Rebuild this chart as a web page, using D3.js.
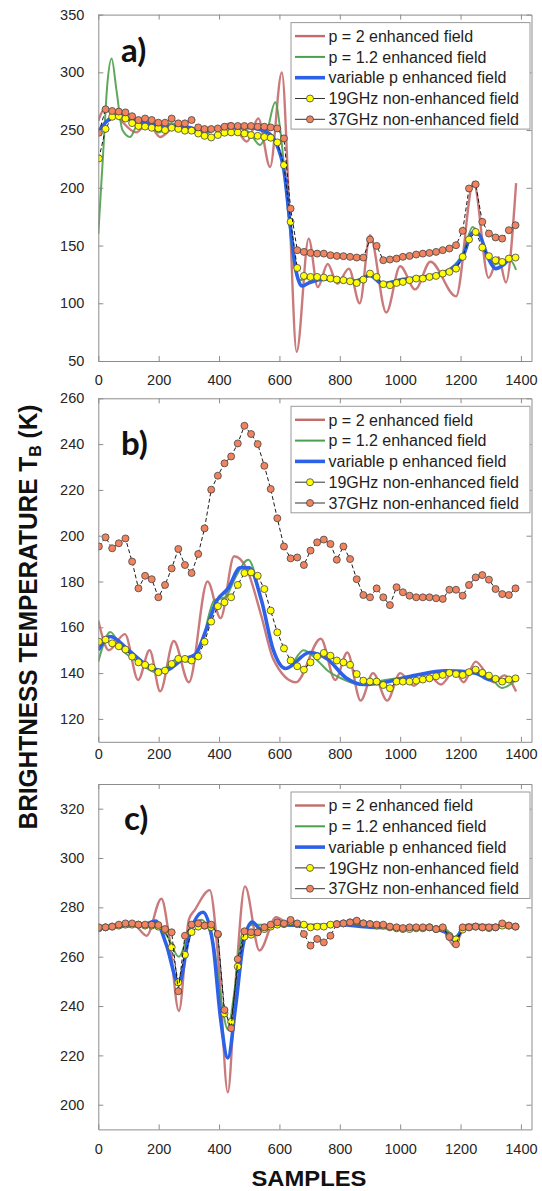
<!DOCTYPE html>
<html lang="en">
<head>
<meta charset="UTF-8">
<title>Brightness temperature profiles</title>
<script src="https://cdn.jsdelivr.net/npm/d3@7"></script>
<style>
  body { margin: 0; background: #fff; }
  svg { display: block; font-family: "Liberation Sans", Arial, sans-serif; }
  .legend-text { font-size: 16px; fill: #1e1e1e; }
</style>
</head>
<body>
<svg id="chart" width="542" height="1191"></svg>
<script>
// footprint sample positions, shared by the 19GHz / 37GHz series of every panel
const sampleX = [2, 24, 46, 68, 90, 112, 133, 155, 177, 199, 221, 243, 265, 287, 309, 331, 352, 374, 396, 418,
  440, 462, 484, 506, 528, 550, 571, 593, 615, 637, 659, 681, 703, 725, 747, 769, 790, 812, 834, 856,
  878, 900, 922, 944, 966, 988, 1009, 1031, 1053, 1075, 1097, 1119, 1141, 1163, 1185, 1207, 1228, 1250, 1272, 1294,
  1316, 1338, 1360, 1382];

const xTicks = [0, 200, 400, 600, 800, 1000, 1200, 1400];
const aYTicks = [50, 100, 150, 200, 250, 300, 350];
const bYTicks = [120, 140, 160, 180, 200, 220, 240, 260];
const cYTicks = [200, 220, 240, 260, 280, 300, 320];

const legendLabels = ['p = 2 enhanced field', 'p = 1.2 enhanced field', 'variable p enhanced field',
  '19GHz non-enhanced field', '37GHz non-enhanced field'];

// ---- panel a ----
const aTb19 = [225.4, 251, 261.5, 262, 260, 256, 253.5, 253, 252, 251.5,
  250, 252, 251, 249.5, 249.5, 247, 245, 243.6, 245.7, 247.7,
  248, 248, 247, 245.7, 245, 244, 243.4, 239.3, 219.7, 170.5,
  130.6, 123.7, 122.8, 122.8, 122.3, 121.4, 120.5, 120, 119, 117.6,
  120.5, 125.7, 122.8, 116.5, 115.6, 117.6, 118.5, 120, 121.4, 121.4,
  122.8, 123.7, 125.7, 127.2, 130, 140.2, 155.2, 161.8, 148.3, 140.8,
  137.3, 135.8, 138.7, 139.6];
const aTb37 = [247.7, 268, 266.5, 266, 265.3, 262, 258.7, 260, 258.7, 256.4,
  256.4, 260, 255.8, 255.8, 258.7, 252.3, 250.9, 250.9, 251.4, 252.9,
  253.5, 253.5, 253.5, 253.5, 252.9, 252.9, 252.3, 251.4, 242.8, 182,
  146, 144.5, 143.6, 143, 143, 141.6, 141, 140.8, 140.2, 139.6,
  139.6, 155.2, 149.7, 137.3, 137.9, 138.7, 140.2, 141, 142.2, 143,
  143.6, 144.5, 146, 147.4, 150.3, 162.7, 199.4, 203, 170.5, 160.4,
  157, 156, 163.3, 167.6];
const aP2X = [0, 20, 60, 125, 165, 205, 250, 300, 350, 400, 440, 492, 530, 569, 608, 633, 657, 697, 727, 760,
  792, 830, 866, 900, 954, 1000, 1050, 1100, 1185, 1243, 1293, 1326, 1350, 1384];
const aP2Y = [258, 268, 262, 248, 256, 244, 252, 253, 248, 252, 256, 240, 260, 218, 300, 180, 58, 156, 114, 134,
  117, 130, 100, 159, 92, 132, 112, 136, 106, 205, 122, 140, 118, 204];
const aP12X = [0, 15, 30, 44, 60, 80, 105, 130, 160, 200, 240, 300, 350, 400, 460, 500, 536, 560, 586, 605,
  625, 645, 665, 700, 850, 900, 940, 1000, 1080, 1140, 1165, 1190, 1210, 1240, 1260, 1290, 1316, 1345, 1365, 1384];
const aP12Y = [160, 225, 290, 312, 285, 250, 244, 255, 258, 248, 256, 250, 246, 252, 252, 248, 237, 250, 274, 245,
  190, 140, 120, 122, 120, 125, 117, 121, 123, 127, 130, 136, 145, 166, 160, 142, 134, 137, 137, 129];
const aVarX = [0, 30, 60, 120, 200, 300, 350, 400, 500, 560, 590, 615, 635, 655, 675, 700, 760, 850, 900, 940,
  1000, 1080, 1140, 1165, 1190, 1210, 1240, 1260, 1290, 1316, 1345, 1370, 1384];
const aVarY = [249, 258, 263, 258, 254, 252, 249, 252, 252, 248, 238, 215, 170, 128, 115, 118, 121, 119, 124, 117,
  120, 123, 126, 129, 134, 142, 161, 160, 140, 130, 134, 140, 139];

// ---- panel b ----
const bTb19 = [153.7, 154.6, 153, 151.7, 150.3, 147.2, 144.7, 143.6, 142.5, 140.4,
  141.1, 144, 146.2, 146.2, 145.5, 147.3, 153.7, 162.5, 169.2, 170.9,
  173.1, 178.5, 183.7, 184, 182.5, 176.7, 167.3, 157.8, 150.8, 145.5,
  143, 141.5, 144.7, 147.3, 148.8, 147.6, 145.5, 144.7, 143.6, 139.6,
  136.7, 136.3, 136.3, 134.8, 133.4, 136.3, 136.3, 136.3, 136.7, 137.2,
  137.7, 138.6, 139.2, 140.1, 139.6, 139.2, 140.4, 141.5, 140.1, 138.9,
  137.5, 136.3, 137.2, 137.7];
const bTb37 = [195.3, 199.3, 194.5, 196.7, 198.8, 188.7, 177, 182.5, 181, 173.1,
  178.5, 185.7, 194.2, 187.2, 183.7, 192, 203.2, 220.1, 226.2, 231.6,
  234.6, 240.3, 248, 244.4, 240, 230.5, 220.4, 207.6, 195.3, 190.1,
  190.5, 187.2, 193.5, 197.1, 198.3, 196.4, 189.5, 195.3, 189.8, 181,
  174.1, 173.1, 177, 173.1, 169.7, 177.5, 175.3, 173.8, 173.1, 173.1,
  173.1, 172.7, 172.4, 176.4, 176.4, 173.8, 178.5, 181.8, 182.8, 180.8,
  176.7, 174.5, 174.1, 177];
const bP2X = [0, 35, 88, 132, 170, 205, 250, 300, 362, 405, 450, 490, 540, 580, 655, 737, 785, 825, 869, 910,
  957, 1000, 1045, 1090, 1135, 1180, 1210, 1250, 1310, 1345, 1384];
const bP2Y = [163, 150, 157, 137, 150, 132, 154, 136, 180, 164, 191, 186, 165, 146, 136, 155, 137, 149, 128, 140,
  128, 140, 134.5, 139.6, 135, 141, 136, 145, 136, 139, 132];
const bP12X = [0, 40, 80, 130, 200, 260, 300, 340, 385, 420, 455, 497, 540, 580, 625, 680, 730, 760, 800, 870,
  950, 1050, 1150, 1250, 1300, 1337, 1384];
const bP12Y = [145, 158, 150, 145, 140, 146, 145, 152, 172, 173, 182, 189.5, 172, 150, 142, 150, 145, 141, 138, 135,
  137, 139, 141, 141, 138, 133.5, 137];
const bVarX = [0, 40, 100, 180, 220, 280, 320, 360, 390, 430, 470, 500, 540, 580, 620, 700, 760, 820, 880, 950,
  1050, 1150, 1250, 1300, 1384];
const bVarY = [150, 156, 150, 142, 141, 146, 148, 160, 171, 177, 186, 186, 172, 150, 142, 149, 146, 138, 135, 136,
  139, 141, 140, 137, 137];

// ---- panel c ----
const cTb19 = [271.5, 271.9, 272.2, 272.6, 273, 273, 273, 272.6, 272.6, 272.2,
  270.8, 263.8, 249.6, 260.8, 270, 272.2, 272.6, 272, 269, 237,
  233.6, 256, 268.1, 268.9, 269.9, 271.2, 272.2, 273, 273.2, 274.3,
  273.2, 273, 271.9, 272.2, 272.2, 273, 273.2, 273.5, 273.9, 274.3,
  273.5, 273.2, 272.6, 272.6, 271.9, 271.5, 271.2, 271.2, 271.5, 271.5,
  271.9, 271.2, 271.5, 268.5, 267, 271, 271.9, 272.2, 271.9, 271.6,
  271.9, 272.6, 272.6, 272.2];
const cTb37 = [271.9, 271.9, 272.2, 273, 273.5, 273.5, 273, 273, 273, 272.8,
  271.2, 269.9, 246, 268.5, 273, 273.5, 272.6, 273, 269.2, 238.4,
  231, 259, 270.3, 269.9, 269.9, 271.9, 273, 273.9, 273.5, 274.9,
  273.5, 269.2, 264.5, 267.2, 265.8, 268.5, 273.2, 273.5, 273.9, 274.6,
  273.5, 273.2, 273, 273, 272.2, 271.9, 271.6, 271.9, 271.9, 271.9,
  271.9, 271.2, 271.9, 268, 265, 271.9, 271.9, 272.2, 271.9, 271.9,
  271.9, 273.5, 272.6, 272.2];
const cP2X = [0, 120, 160, 209, 235, 267, 300, 320, 369, 400, 429, 455, 486, 534, 589, 640, 700, 1000, 1140, 1178,
  1220, 1384];
const cP2Y = [272, 272.5, 268.5, 283.5, 268, 238, 275, 279, 287, 255, 205, 250, 288.5, 262.5, 276, 272.5, 273, 272, 271, 264.5,
  273, 272.5];
const cP12X = [0, 190, 230, 267, 300, 340, 380, 410, 429, 450, 475, 510, 600, 800, 1150, 1180, 1210, 1384];
const cP12Y = [272, 273.5, 268, 260, 270, 275, 266, 240, 230.5, 245, 268, 273, 273, 273, 271, 268, 271.5, 272];
const cVarX = [0, 150, 190, 225, 267, 300, 347, 380, 405, 429, 455, 480, 510, 540, 600, 700, 800, 900, 1100, 1150,
  1180, 1210, 1384];
const cVarY = [272, 273, 274.5, 265, 249, 268, 278, 265, 235, 219, 240, 265, 274, 271, 273, 272.5, 273, 272, 271.5, 270,
  266.5, 271.5, 272.5];

const colP2 = '#c46b6b';
const colP12 = '#4c9f4c';
const colVar = '#2d62e8';
const col19 = '#ffff00';
const col37 = '#f2835f';
const axisCol = '#8c8c8c';

const panels = [
  {name: 'a', label: 'a)', top: 14.6, bottom: 361, yDomain: [50, 350], yTicks: aYTicks, labelX: 121, labelY: 62, xPad: 14.2,
    p2: [aP2X, aP2Y], p12: [aP12X, aP12Y], varp: [aVarX, aVarY], tb19: aTb19, tb37: aTb37},
  {name: 'b', label: 'b)', top: 398.3, bottom: 741.8, yDomain: [110, 260], yTicks: bYTicks, labelX: 121, labelY: 455, xPad: 7,
    p2: [bP2X, bP2Y], p12: [bP12X, bP12Y], varp: [bVarX, bVarY], tb19: bTb19, tb37: bTb37},
  {name: 'c', label: 'c)', top: 784, bottom: 1129.4, yDomain: [190, 330], yTicks: cYTicks, labelX: 124, labelY: 830, xPad: 14,
    p2: [cP2X, cP2Y], p12: [cP12X, cP12Y], varp: [cVarX, cVarY], tb19: cTb19, tb37: cTb37}
];

const svg = d3.select('#chart');
const x = d3.scaleLinear().domain([0, 1435]).range([98.3, 531.5]);

function styleAxis(g) {
  g.attr('font-size', 14.5).attr('font-family', '"Liberation Sans", Arial, sans-serif');
  g.select('.domain').attr('stroke', axisCol);
  g.selectAll('.tick line').attr('stroke', axisCol);
  g.selectAll('.tick text').attr('fill', '#262626');
}

panels.forEach(function (p) {
  const y = d3.scaleLinear().domain(p.yDomain).range([p.bottom, p.top]);
  const g = svg.append('g');

  g.append('clipPath').attr('id', 'clip-' + p.name)
    .append('rect')
    .attr('x', x.range()[0]).attr('y', p.top)
    .attr('width', x.range()[1] - x.range()[0]).attr('height', p.bottom - p.top);

  const plot = g.append('g').attr('clip-path', 'url(#clip-' + p.name + ')');

  const smooth = d3.line().curve(d3.curveMonotoneX);
  function knots(pair) {
    return pair[0].map((v, i) => [x(v), y(pair[1][i])]);
  }
  plot.append('path').attr('d', smooth(knots(p.p2)))
    .attr('fill', 'none').attr('stroke', colP2).attr('stroke-width', 2.4).attr('stroke-opacity', 0.9);
  plot.append('path').attr('d', smooth(knots(p.p12)))
    .attr('fill', 'none').attr('stroke', colP12).attr('stroke-width', 2).attr('stroke-opacity', 0.9);
  plot.append('path').attr('d', smooth(knots(p.varp)))
    .attr('fill', 'none').attr('stroke', colVar).attr('stroke-width', 3.6);

  const straight = d3.line();
  [[p.tb19, col19], [p.tb37, col37]].forEach(function (s) {
    const pts = s[0].map((v, i) => [x(sampleX[i]), y(v)]);
    plot.append('path').attr('d', straight(pts))
      .attr('fill', 'none').attr('stroke', '#1a1a1a').attr('stroke-width', 1)
      .attr('stroke-dasharray', '4,2.5');
    plot.selectAll(null).data(pts).enter().append('circle')
      .attr('cx', d => d[0]).attr('cy', d => d[1]).attr('r', 3.5)
      .attr('fill', s[1]).attr('stroke', '#444').attr('stroke-width', 0.8);
  });

  // box axes, ticks pointing inwards like matlab
  g.append('g').attr('transform', 'translate(0,' + p.bottom + ')')
    .call(d3.axisBottom(x).tickValues(xTicks).tickFormat(d3.format('d'))
      .tickSizeInner(-5).tickSizeOuter(0).tickPadding(p.xPad))
    .call(styleAxis);
  g.append('g').attr('transform', 'translate(0,' + p.top + ')')
    .call(d3.axisTop(x).tickValues(xTicks).tickSizeInner(-5).tickSizeOuter(0).tickFormat(''))
    .call(styleAxis);
  g.append('g').attr('transform', 'translate(' + x.range()[0] + ',0)')
    .call(d3.axisLeft(y).tickValues(p.yTicks).tickSizeInner(-5).tickSizeOuter(0).tickPadding(14))
    .call(styleAxis);
  g.append('g').attr('transform', 'translate(' + x.range()[1] + ',0)')
    .call(d3.axisRight(y).tickValues(p.yTicks).tickSizeInner(-5).tickSizeOuter(0).tickFormat(''))
    .call(styleAxis);

  g.append('text').attr('x', p.labelX).attr('y', p.labelY)
    .style('font-family', 'Lato, sans-serif').style('font-weight', 'bold').style('font-size', '33px')
    .attr('fill', '#111').text(p.label);

  // legend
  const lg = g.append('g').attr('transform', 'translate(291,' + (p.top + 8) + ')');
  lg.append('rect').attr('width', 239).attr('height', 106.5)
    .attr('fill', '#fff').attr('stroke', '#9a9a9a').attr('stroke-width', 1);
  legendLabels.forEach(function (t, i) {
    const cy = 13.5 + i * 20.8;
    const row = lg.append('g').attr('transform', 'translate(0,' + cy + ')');
    if (i < 3) {
      row.append('line').attr('x1', 4).attr('x2', 34)
        .attr('stroke', [colP2, colP12, colVar][i]).attr('stroke-width', [2.4, 2, 3.6][i]);
    } else {
      row.append('line').attr('x1', 4).attr('x2', 34)
        .attr('stroke', '#333').attr('stroke-width', 1);
      row.append('circle').attr('cx', 19).attr('r', 3.5)
        .attr('fill', i === 3 ? col19 : col37).attr('stroke', '#444').attr('stroke-width', 0.8);
    }
    row.append('text').attr('class', 'legend-text').attr('x', 37.5).attr('y', 5.7).text(t);
  });
});

// axis titles
const yt = svg.append('text')
  .attr('transform', 'translate(37,617) rotate(-90)')
  .attr('text-anchor', 'middle')
  .attr('textLength', 425).attr('lengthAdjust', 'spacingAndGlyphs')
  .style('font-weight', 'bold').style('font-size', '26px').attr('fill', '#111');
yt.append('tspan').text('BRIGHTNESS TEMPERATURE T');
yt.append('tspan').attr('dy', 4).style('font-size', '17px').text('B');
yt.append('tspan').attr('dy', -4).text(' (K)');

svg.append('text').attr('x', 309).attr('y', 1186)
  .attr('text-anchor', 'middle')
  .attr('textLength', 115).attr('lengthAdjust', 'spacingAndGlyphs')
  .style('font-weight', 'bold').style('font-size', '22px').attr('fill', '#111')
  .text('SAMPLES');
</script>
</body>
</html>
